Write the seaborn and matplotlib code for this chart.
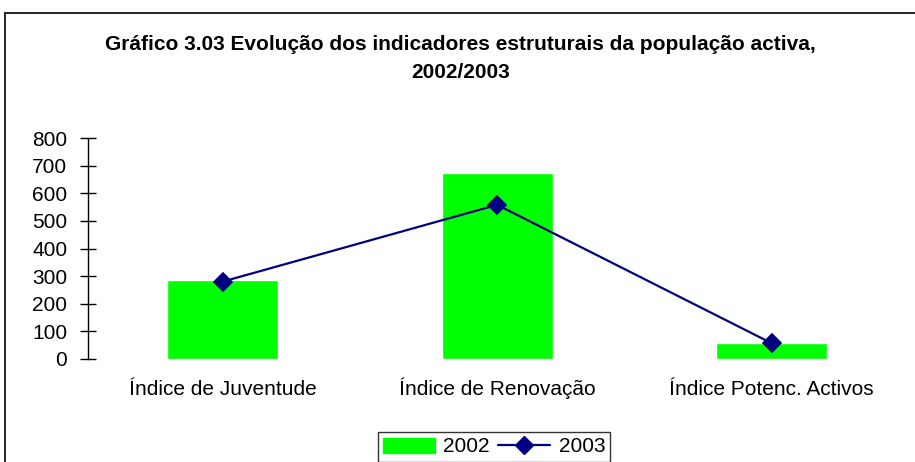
import matplotlib
matplotlib.use("Agg")
import matplotlib.pyplot as plt
import seaborn as sns
import pandas as pd
from matplotlib.patches import Rectangle
from matplotlib.lines import Line2D

categories = ["Índice de Juventude", "Índice de Renovação", "Índice Potenc. Activos"]
values_2002 = [287, 675, 59]
values_2003 = [280, 558, 57]
yticks = [0, 100, 200, 300, 400, 500, 600, 700, 800]

sns.set_style("white")
plt.rcParams['font.family'] = ['Liberation Sans', 'DejaVu Sans']
plt.rcParams['text.color'] = 'black'
plt.rcParams['xtick.color'] = 'black'
plt.rcParams['ytick.color'] = 'black'
plt.rcParams['axes.labelcolor'] = 'black'

df = pd.DataFrame({"cat": categories, "v2002": values_2002, "v2003": values_2003})

fig = plt.figure(figsize=(9.15, 4.62), dpi=100)
ax = fig.add_axes([88/915, 1 - 359/462, (909 - 88)/915, (359 - 138)/462])

sns.barplot(data=df, x="cat", y="v2002", color="#00FF00", width=0.404, saturation=1, ax=ax)
sns.pointplot(data=df, x="cat", y="v2003", color="#000080", markers="D", linestyles="-",
              ax=ax, markersize=9, linewidth=1.6)

ax.set_ylim(0, 800)
ax.set_yticks(yticks)
ax.set_yticklabels([str(t) for t in yticks], fontsize=15)
ax.set_xlim(-0.49, 2.5)
ax.set_xlabel("")
ax.set_ylabel("")
for s in ["top", "right", "bottom"]:
    ax.spines[s].set_visible(False)
ax.spines["left"].set_color("black")
ax.spines["left"].set_linewidth(1)
ax.tick_params(axis="y", direction="inout", length=12, width=1, color="black", left=True, pad=9,
               labelcolor="black")
ax.tick_params(axis="x", length=0, labelsize=15, pad=26, labelcolor="black")
for lab in ax.get_xticklabels():
    lab.set_verticalalignment("baseline")
ax.grid(False)

fig.text(0.503, 1 - 44/462, "Gráfico 3.03 Evolução dos indicadores estruturais da população activa,",
         ha="center", va="center", fontsize=15, fontweight="bold", color="black")
fig.text(0.503, 1 - 72/462, "2002/2003", ha="center", va="center", fontsize=15, fontweight="bold",
         color="black")

# outer frame
fig.add_artist(Line2D([5/915, 5/915], [0, 1 - 13/462], color="black", lw=1.2, transform=fig.transFigure))
fig.add_artist(Line2D([5/915, 1], [1 - 13/462, 1 - 13/462], color="black", lw=1.2, transform=fig.transFigure))

handles = [Rectangle((0, 0), 1, 1, color="#00FF00"),
           Line2D([], [], color="#000080", marker="D", markersize=9, lw=1.6)]
leg = fig.legend(handles, ["2002", "2003"], loc="center", bbox_to_anchor=(494/915, 1 - 447/462),
                 ncol=2, fontsize=15, frameon=True, fancybox=False, edgecolor="black",
                 handlelength=2.5, handletextpad=0.4, columnspacing=0.4, borderpad=0.25,
                 borderaxespad=0)
leg.get_frame().set_linewidth(1)
for t in leg.get_texts():
    t.set_color("black")

fig.savefig("out.png", dpi=100)
